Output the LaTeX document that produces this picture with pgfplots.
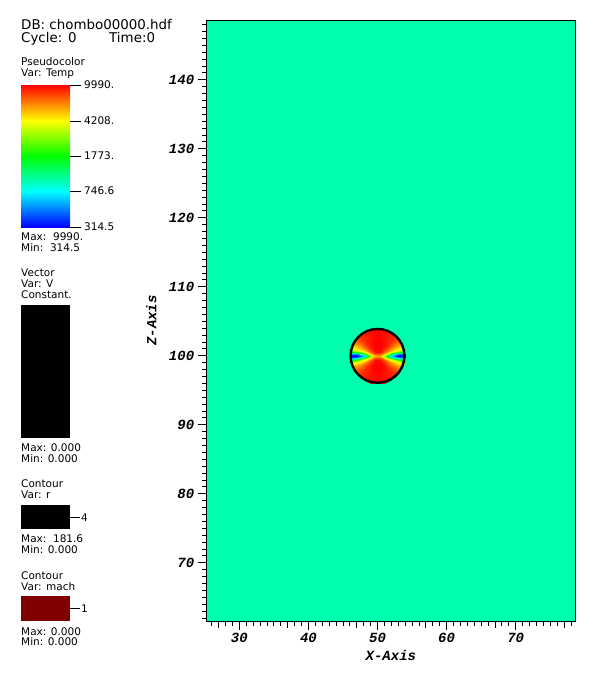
\documentclass[border=0pt]{standalone}
\usepackage{pgfplots}
\usepackage{pgfplotstable}
\pgfplotsset{compat=1.18}
\usepackage{fontspec}
\setmainfont{DejaVu Sans}
\newfontfamily\axfont{Liberation Mono}
\definecolor{bgc}{RGB}{0,255,172}
\definecolor{maroonc}{RGB}{128,0,0}
\pgfdeclareverticalshading{visitbar}{100bp}{rgb(0bp)=(0,0,1); rgb(25bp)=(0,0,1); rgb(37.5bp)=(0,1,1); rgb(50bp)=(0,1,0); rgb(62.5bp)=(1,1,0); rgb(75bp)=(1,0,0); rgb(100bp)=(1,0,0)}

% Temp field inside the r=4 disk, one quadrant (offsets from centre 50,100), rows = angles
\pgfplotstableread{
dx dy m
0 0 3.4
0.6 0 3.0
1.2 0 2.0
2 0 0.8
3 0 0.05
4 0 0.0
0 0 3.4
0.599 0.042 3.05
1.197 0.084 2.2
1.995 0.140 1.2
2.993 0.209 0.35
3.990 0.279 0.6
0 0 3.4
0.594 0.084 3.15
1.188 0.167 2.6
1.981 0.278 1.9
2.971 0.418 1.6
3.961 0.557 1.8
0 0 3.4
0.582 0.145 3.3
1.164 0.290 3.0
1.941 0.484 2.8
2.911 0.726 2.7
3.881 0.968 2.8
0 0 3.4
0.564 0.205 3.45
1.128 0.410 3.3
1.879 0.684 3.2
2.819 1.026 3.1
3.759 1.368 3.15
0 0 3.4
0.520 0.300 3.6
1.039 0.600 3.6
1.732 1.000 3.55
2.598 1.500 3.5
3.464 2.000 3.5
0 0 3.4
0.424 0.424 3.8
0.849 0.849 3.85
1.414 1.414 3.85
2.121 2.121 3.8
2.828 2.828 3.8
0 0 3.4
0.300 0.520 3.9
0.600 1.039 3.95
1.000 1.732 3.95
1.500 2.598 3.9
2.000 3.464 3.9
0 0 3.4
0.155 0.580 3.95
0.311 1.159 4
0.518 1.932 4
0.776 2.898 3.95
1.035 3.864 3.95
0 0 3.4
0 0.6 3.95
0 1.2 4
0 2 4
0 3 4
0 4 4
}\disk

\begin{document}
\begin{tikzpicture}
\fill[white] (0,0) rectangle (593bp,-673bp);
\path[use as bounding box] (0,0) rectangle (593bp,-673bp);
\begin{axis}[
  at={(206.7bp,-621bp)}, anchor=south west,
  scale only axis, width=368.3bp, height=601bp,
  xmin=25.28, xmax=78.58, ymin=61.57, ymax=148.67,
  axis background/.style={fill=bgc},
  axis line style={black, line width=1bp},
  colormap={visit}{rgb255=(0,0,255) rgb255=(0,255,255) rgb255=(0,255,0) rgb255=(255,255,0) rgb255=(255,0,0)},
  point meta min=0, point meta max=4,
  xtick={30,40,50,60,70}, ytick={70,80,90,100,110,120,130,140},
  minor xtick={26,27,...,78}, minor ytick={62,63,...,148},
  extra x ticks={27,37,47,57,67,77}, extra x tick labels={},
  extra x tick style={major tick length=6.5bp},
  tick pos=left, tick align=outside,
  major tick length=9bp, minor tick length=4.5bp,
  tick style={black, line width=0.9bp},
  /pgf/number format/assume math mode=true,
  ticklabel style={font=\fontsize{14bp}{16bp}\axfont\bfseries\itshape},
  label style={font=\fontsize{14bp}{16bp}\axfont\bfseries\itshape},
  xlabel={X-Axis}, ylabel={Z-Axis},
  xlabel style={at={(axis description cs:0.5,-0.0649)}, anchor=base},
  ylabel style={at={(axis description cs:-0.1502,0.5)}, anchor=center},
]
\addplot[surf, shader=interp, mesh/rows=10, mesh/cols=6, point meta=explicit]
  table[x expr={50+\thisrow{dx}}, y expr={100+\thisrow{dy}}, meta=m] {\disk};
\addplot[surf, shader=interp, mesh/rows=10, mesh/cols=6, point meta=explicit]
  table[x expr={50-\thisrow{dx}}, y expr={100+\thisrow{dy}}, meta=m] {\disk};
\addplot[surf, shader=interp, mesh/rows=10, mesh/cols=6, point meta=explicit]
  table[x expr={50+\thisrow{dx}}, y expr={100-\thisrow{dy}}, meta=m] {\disk};
\addplot[surf, shader=interp, mesh/rows=10, mesh/cols=6, point meta=explicit]
  table[x expr={50-\thisrow{dx}}, y expr={100-\thisrow{dy}}, meta=m] {\disk};
\draw[black, line width=2.4bp] (axis cs:50,100) circle[radius=3.9];
\end{axis}

\begin{scope}[x=1bp, y=-1bp]
\def\big{\fontsize{13.4bp}{15bp}\selectfont}
\def\sm{\fontsize{10.5bp}{12bp}\selectfont}
\tikzset{lt/.style={anchor=base west, inner sep=0pt}}
\node[lt] at (21,29) {\big DB: chombo00000.hdf};
\node[lt] at (21,42.3) {\big Cycle: 0};
\node[lt] at (109,42.3) {\big Time:0};
% Pseudocolor
\node[lt] at (21,65.7) {\sm Pseudocolor};
\node[lt] at (21,76.3) {\sm Var: Temp};
\shade[shading=visitbar] (21,85) rectangle (70,227);
\foreach \yy/\lab in {85/9990., 121/4208., 156/1773., 191/746.6, 227/314.5}{
  \draw[line width=1bp] (70,\yy) -- (81,\yy);
  \node[anchor=west, inner sep=0pt] at (84,\yy) {\sm\lab};
}
\node[lt] at (21,240.5) {\sm Max:\ \ 9990.};
\node[lt] at (21,251) {\sm Min:\ \ 314.5};
% Vector
\node[lt] at (21,276.7) {\sm Vector};
\node[lt] at (21,287.3) {\sm Var: V};
\node[lt] at (21,298.7) {\sm Constant.};
\fill[black] (21,305) rectangle (70,437.7);
\node[lt] at (21,451.7) {\sm Max: 0.000};
\node[lt] at (21,462.3) {\sm Min: 0.000};
% Contour r
\node[lt] at (21,487.7) {\sm Contour};
\node[lt] at (21,498.7) {\sm Var: r};
\fill[black] (21,505) rectangle (70,529);
\draw[line width=1bp] (70,517.7) -- (80,517.7);
\node[anchor=west, inner sep=0pt] at (81,517.7) {\sm 4};
\node[lt] at (21,542.3) {\sm Max:\ \ 181.6};
\node[lt] at (21,553.3) {\sm Min: 0.000};
% Contour mach
\node[lt] at (21,579) {\sm Contour};
\node[lt] at (21,590) {\sm Var: mach};
\fill[maroonc] (21,596) rectangle (70,620.7);
\draw[line width=1bp] (70,608.3) -- (80,608.3);
\node[anchor=west, inner sep=0pt] at (81,608.3) {\sm 1};
\node[lt] at (21,635) {\sm Max: 0.000};
\node[lt] at (21,645.7) {\sm Min: 0.000};
\end{scope}
\end{tikzpicture}
\end{document}
